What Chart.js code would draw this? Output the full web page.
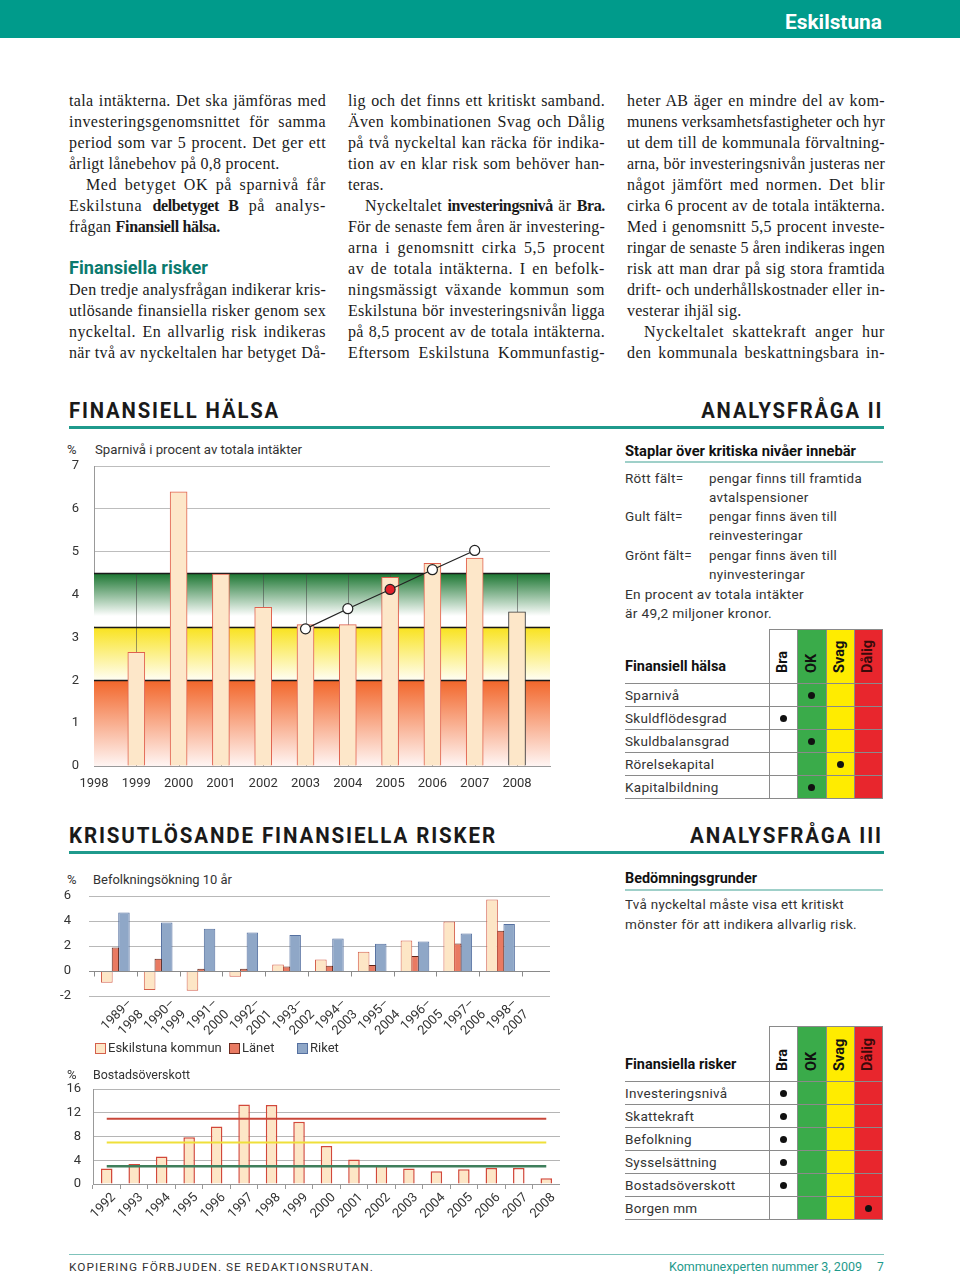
<!DOCTYPE html>
<html><head><meta charset="utf-8">
<script src="https://cdn.jsdelivr.net/npm/chart.js@4.4.1/dist/chart.umd.min.js"></script>
<style>
html,body{margin:0;padding:0;background:#fff;}
body{width:960px;height:1277px;position:relative;overflow:hidden;font-family:Roboto,"Liberation Sans",sans-serif;color:#222;}
.a{position:absolute;white-space:nowrap;}
#topbar{position:absolute;left:0;top:0;width:960px;height:38px;background:#009b8b;}
.col{position:absolute;top:90px;font-family:"Liberation Serif",serif;font-size:16px;line-height:21px;color:#1a1a1a;letter-spacing:0.25px;}
.col .l{height:21px;white-space:nowrap;}
.col .l span{display:inline-block;white-space:nowrap;}
.col b{font-weight:bold;letter-spacing:-0.35px;}
.sec{position:absolute;font-weight:bold;font-size:22px;letter-spacing:2px;line-height:24px;color:#1a1a1a;white-space:nowrap;}
.rule{position:absolute;left:69px;width:815px;height:3px;background:#1f9a8c;}
.ct{position:absolute;font-size:13px;line-height:14px;color:#333;white-space:nowrap;}
.rt{position:absolute;font-size:13.5px;line-height:16px;color:#333;white-space:nowrap;letter-spacing:0.3px;}
.hb{position:absolute;font-weight:bold;font-size:15px;line-height:16px;color:#111;white-space:nowrap;}
canvas{position:absolute;}
.cell{position:absolute;box-sizing:border-box;}
.hl{position:absolute;height:1px;background:#8a8a8a;}
.vl{position:absolute;width:1px;background:#8a8a8a;}
.dot{position:absolute;width:7px;height:7px;border-radius:50%;background:#111;}
.rot{position:absolute;font-weight:bold;font-size:14.5px;line-height:16px;white-space:nowrap;transform-origin:0 0;transform:rotate(-90deg);}
.lg{position:absolute;width:9px;height:9px;border:1px solid;}
</style></head>
<body>
<div id="topbar"></div>
<div class="a" data-w="97" style="left:785px;top:10px;font-weight:bold;font-size:21px;line-height:24px;color:#fff;">Eskilstuna</div>

<div class="col" id="c1" style="left:69px;width:257px;"></div>
<div class="col" id="c2" style="left:348px;width:257px;"></div>
<div class="col" id="c3" style="left:627px;width:258px;"></div>

<div class="sec" data-w="211" style="left:69px;top:399px;">FINANSIELL HÄLSA</div>
<div class="sec" data-w="182" data-o="right" style="left:701px;top:399px;">ANALYSFRÅGA II</div>
<div class="rule" style="top:426px;"></div>

<div class="sec" data-w="428" style="left:69px;top:824px;">KRISUTLÖSANDE FINANSIELLA RISKER</div>
<div class="sec" data-w="193" style="left:690px;top:824px;">ANALYSFRÅGA III</div>
<div class="rule" style="top:851px;"></div>

<!-- chart 1 -->
<div class="ct" style="left:67px;top:443px;">%</div>
<div class="ct" data-w="207" style="left:95px;top:443px;">Sparnivå i procent av totala intäkter</div>
<canvas id="ch1" width="500" height="360" style="left:60px;top:440px;"></canvas>

<!-- chart 2 -->
<div class="ct" style="left:67px;top:873px;">%</div>
<div class="ct" data-w="139" style="left:93px;top:873px;">Befolkningsökning 10 år</div>
<canvas id="ch2" width="500" height="175" style="left:60px;top:870px;"></canvas>
<div id="legend2"></div>

<!-- chart 3 -->
<div class="ct" style="left:67px;top:1068px;">%</div>
<div class="ct" data-w="97" style="left:93px;top:1068px;">Bostadsöverskott</div>
<canvas id="ch3" width="500" height="170" style="left:60px;top:1060px;"></canvas>

<!-- right column -->
<div class="hb" data-w="231" style="left:625px;top:443px;">Staplar över kritiska nivåer innebär</div>
<div class="a" style="left:625px;top:461px;width:258px;height:2px;background:#9fd0c9;"></div>
<div class="rt" style="left:625px;top:470px;">Rött fält=</div>
<div class="rt" data-w="153" style="left:709px;top:470px;">pengar finns till framtida</div>
<div class="rt" style="left:709px;top:489px;">avtalspensioner</div>
<div class="rt" style="left:625px;top:508px;">Gult fält=</div>
<div class="rt" data-w="128" style="left:709px;top:508px;">pengar finns även till</div>
<div class="rt" style="left:709px;top:527px;">reinvesteringar</div>
<div class="rt" style="left:625px;top:547px;">Grönt fält=</div>
<div class="rt" data-w="128" style="left:709px;top:547px;">pengar finns även till</div>
<div class="rt" style="left:709px;top:566px;">nyinvesteringar</div>
<div class="rt" data-w="179" style="left:625px;top:586px;">En procent av totala intäkter</div>
<div class="rt" data-w="147" style="left:625px;top:605px;">är 49,2 miljoner kronor.</div>
<div id="tab1"></div>

<div class="hb" data-w="132" style="left:625px;top:870px;">Bedömningsgrunder</div>
<div class="a" style="left:625px;top:889px;width:258px;height:2px;background:#9fd0c9;"></div>
<div class="rt" data-w="219" style="left:625px;top:896px;">Två nyckeltal måste visa ett kritiskt</div>
<div class="rt" data-w="232" style="left:625px;top:916px;">mönster för att indikera allvarlig risk.</div>
<div id="tab2"></div>

<!-- footer -->
<div class="a" style="left:69px;top:1254px;width:815px;height:1px;background:#7fc3bb;"></div>
<div class="a" data-w="305" style="left:69px;top:1260px;font-size:11.5px;line-height:14px;letter-spacing:1px;color:#333;">KOPIERING FÖRBJUDEN. SE REDAKTIONSRUTAN.</div>
<div class="a" data-w="193" style="left:669px;top:1260px;font-size:12px;line-height:14px;color:#1f9a8c;">Kommunexperten nummer 3, 2009</div>
<div class="a" style="left:877px;top:1260px;font-size:12px;line-height:14px;color:#1f9a8c;">7</div>

<script>
// ---------- DATA ----------
const sparYears = [1999, 2000, 2001, 2002, 2003, 2004, 2005, 2006, 2007, 2008];
const sparValues = [2.65, 6.4, 4.48, 3.7, 3.3, 3.3, 4.4, 4.73, 4.85, 3.6];
const trendYears = [2003, 2004, 2005, 2006, 2007];
const trendValues = [3.2, 3.67, 4.12, 4.58, 5.03];
const sparLimits = [2, 3.25, 4.5];
const sparAxisYears = [1998, 1999, 2000, 2001, 2002, 2003, 2004, 2005, 2006, 2007, 2008];

const befPeriods = [['1989–','1998'],['1990–','1999'],['1991–','2000'],['1992–','2001'],['1993–','2002'],
                    ['1994–','2003'],['1995–','2004'],['1996–','2005'],['1997–','2006'],['1998–','2007']];
const befEskilstuna = [-0.93, -1.52, -1.57, -0.45, 0.53, 0.93, 1.55, 2.45, 3.97, 5.73];
const befLanet = [1.89, 0.99, 0.19, 0.19, 0.37, 0.43, 0.48, 1.2, 2.21, 3.23];
const befRiket = [4.69, 3.89, 3.39, 3.09, 2.88, 2.61, 2.19, 2.37, 3.01, 3.76];
const befSeriesNames = ['Eskilstuna kommun', 'Länet', 'Riket'];

const bostadYears = ['1992','1993','1994','1995','1996','1997','1998','1999','2000','2001','2002','2003','2004','2005','2006','2007','2008'];
const bostadValues = [2.59, 3.38, 4.62, 7.89, 9.69, 13.41, 13.3, 10.48, 6.42, 4.11, 3.1, 2.59, 2.14, 2.48, 2.7, 2.7, 0.96];
const bostadRed    = [11, 11, 11, 11, 11, 11, 11, 11, 11, 11, 11, 11, 11, 11, 11, 11, 11];
const bostadYellow = [7, 7, 7, 7, 7, 7, 7, 7, 7, 7, 7, 7, 7, 7, 7, 7, 7];
const bostadGreen  = [3, 3, 3, 3, 3, 3, 3, 3, 3, 3, 3, 3, 3, 3, 3, 3, 3];

const gradeCols = ['Bra', 'OK', 'Svag', 'Dålig'];
const healthRows = ['Sparnivå', 'Skuldflödesgrad', 'Skuldbalansgrad', 'Rörelsekapital', 'Kapitalbildning'];
const healthGrades = ['OK', 'Bra', 'OK', 'Svag', 'OK'];
const riskRows = ['Investeringsnivå', 'Skattekraft', 'Befolkning', 'Sysselsättning', 'Bostadsöverskott', 'Borgen mm'];
const riskGrades = ['Bra', 'Bra', 'Bra', 'Bra', 'Bra', 'Dålig'];

// ---------- TEXT COLUMNS ----------
const col1 = [
 'J|tala intäkterna. Det ska jämföras med',
 'J|investeringsgenomsnittet för samma',
 'J|period som var 5 procent. Det ger ett',
 'L|årligt lånebehov på 0,8 procent.',
 'I|Med betyget OK på sparnivå får',
 'J|Eskilstuna <b>delbetyget B</b> på analys-',
 'L|frågan <b>Finansiell hälsa.</b>',
 'L|&nbsp;',
 'H|Finansiella risker',
 'J|Den tredje analysfrågan indikerar kris-',
 'J|utlösande finansiella risker genom sex',
 'J|nyckeltal. En allvarlig risk indikeras',
 'J|när två av nyckeltalen har betyget Då-'];
const col2 = [
 'J|lig och det finns ett kritiskt samband.',
 'J|Även kombinationen Svag och Dålig',
 'J|på två nyckeltal kan räcka för indika-',
 'J|tion av en klar risk som behöver han-',
 'L|teras.',
 'I|Nyckeltalet <b>investeringsnivå</b> är <b>Bra.</b>',
 'J|För de senaste fem åren är investering-',
 'J|arna i genomsnitt cirka 5,5 procent',
 'J|av de totala intäkterna. I en befolk-',
 'J|ningsmässigt växande kommun som',
 'J|Eskilstuna bör investeringsnivån ligga',
 'J|på 8,5 procent av de totala intäkterna.',
 'J|Eftersom Eskilstuna Kommunfastig-'];
const col3 = [
 'J|heter AB äger en mindre del av kom-',
 'J|munens verksamhetsfastigheter och hyr',
 'J|ut dem till de kommunala förvaltning-',
 'J|arna, bör investeringsnivån justeras ner',
 'J|något jämfört med normen. Det blir',
 'J|cirka 6 procent av de totala intäkterna.',
 'J|Med i genomsnitt 5,5 procent investe-',
 'J|ringar de senaste 5 åren indikeras ingen',
 'J|risk att man drar på sig stora framtida',
 'J|drift- och underhållskostnader eller in-',
 'L|vesterar ihjäl sig.',
 'I|Nyckeltalet skattekraft anger hur',
 'J|den kommunala beskattningsbara in-'];

function buildCol(id, lines){
  const el = document.getElementById(id);
  const W = el.offsetWidth;
  lines.forEach(s=>{
    const [k, t] = [s[0], s.slice(2)];
    const d = document.createElement('div'); d.className='l';
    const sp = document.createElement('span'); sp.innerHTML = t; d.appendChild(sp);
    el.appendChild(d);
    if (k === 'H'){
      sp.style.fontFamily = 'Roboto, sans-serif'; sp.style.fontWeight='bold';
      sp.style.fontSize='18.5px'; sp.style.color='#0b7a6e'; sp.style.letterSpacing='0px';
      sp.dataset.w = '139';
      return;
    }
    let ind = 0;
    if (k === 'I'){ ind = 17; d.style.paddingLeft = ind+'px'; }
    if (k === 'J' || k === 'I'){
      const w = sp.getBoundingClientRect().width;
      const txt = sp.textContent;
      const n = (txt.match(/ /g)||[]).length;
      const extra = W - ind - w;
      let lsAdd = 0;
      if (extra > 0) lsAdd = Math.min(extra*0.45/txt.length, 0.7);
      if (extra < 0) lsAdd = Math.max(extra*0.8/txt.length, -0.8);
      sp.style.letterSpacing = (0.25+lsAdd)+'px';
      const w2 = sp.getBoundingClientRect().width;
      if (n>0) sp.style.wordSpacing = ((W-ind-w2)/n)+'px';
    }
  });
}

// ---------- TABLES ----------
function buildTable(id, title, rows, grades, top, rowH, headH){
  const host = document.getElementById(id);
  const L = 625, colX = [769, 797, 826, 854, 882];
  const fills = ['#ffffff', '#3aab4a', '#ffec00', '#e8262d'];
  const bottom = top + headH + rows.length*rowH;
  let h = '';
  for (let i=0;i<4;i++){
    h += `<div class="cell" style="left:${colX[i]}px;top:${top}px;width:${colX[i+1]-colX[i]}px;height:${bottom-top}px;background:${fills[i]}"></div>`;
  }
  for (let i=0;i<5;i++) h += `<div class="vl" style="left:${colX[i]}px;top:${top}px;height:${bottom-top}px"></div>`;
  h += `<div class="hl" style="left:${colX[0]}px;top:${top}px;width:${colX[4]-colX[0]+1}px"></div>`;
  for (let r=0;r<=rows.length;r++){
    const y = top+headH+r*rowH;
    h += `<div class="hl" style="left:${L}px;top:${y}px;width:${colX[4]-L+1}px"></div>`;
  }
  h += `<div class="hb" style="left:${L}px;top:${top+headH-24}px;font-size:14.5px">${title}</div>`;
  for (let i=0;i<4;i++){
    const cx = (colX[i]+colX[i+1])/2;
    h += `<div class="rot" style="left:${cx-8}px;top:${top+headH-10}px;color:${i==3?'#3a0a0a':'#111'}">${gradeCols[i]}</div>`;
  }
  rows.forEach((r,k)=>{
    const y = top+headH+k*rowH;
    h += `<div class="rt" style="left:${L}px;top:${y+ (rowH-16)/2}px">${r}</div>`;
    const ci = gradeCols.indexOf(grades[k]);
    const cx = (colX[ci]+colX[ci+1])/2;
    h += `<div class="dot" style="left:${cx-3.5}px;top:${y+rowH/2-3}px"></div>`;
  });
  host.innerHTML = h;
}

buildCol('c1', col1); buildCol('c2', col2); buildCol('c3', col3);
buildTable('tab1', 'Finansiell hälsa', healthRows, healthGrades, 629, 23, 54);
buildTable('tab2', 'Finansiella risker', riskRows, riskGrades, 1026, 23, 55);

// legend for chart 2
(function(){
  const st = [['#fde6c6','#d4604c',95,108],['#e97a62','#6b2a1e',229,242],['#8fa7c7','#5570a0',297,310]];
  let h='';
  befSeriesNames.forEach((n,i)=>{
    h += `<div class="lg" style="left:${st[i][2]}px;top:1043px;background:${st[i][0]};border-color:${st[i][1]}"></div>`;
    h += `<div class="ct" style="left:${st[i][3]}px;top:1041px;">${n}</div>`;
  });
  document.getElementById('legend2').innerHTML = h;
})();

// fit widths
document.querySelectorAll('[data-w]').forEach(el=>{
  el.style.display='inline-block';
  const w = el.getBoundingClientRect().width;
  const t = +el.dataset.w;
  if (el.dataset.o === 'right'){ el.style.left = (parseFloat(el.style.left) + t - w) + 'px'; el.style.transformOrigin='right center'; }
  else el.style.transformOrigin='left center';
  el.style.transform = `scaleX(${t/w})`;
});

// ---------- CHARTS ----------
Chart.defaults.font.family = 'Roboto, "Liberation Sans", sans-serif';
Chart.defaults.font.size = 13;
Chart.defaults.color = '#333';
Chart.defaults.animation = false;
Chart.defaults.plugins.legend.display = false;
Chart.defaults.plugins.tooltip.enabled = false;

const bandPlugin = {
  id: 'bands',
  beforeDatasetsDraw(chart){
    const {ctx, chartArea:a, scales:{x, y}} = chart;
    const lims = [0, ...sparLimits];
    const cols = [['#f2662a','#fff5f3'],['#f9e21c','#fffef4'],['#1a7530','#ffffff']];
    ctx.save();
    for (let i=0;i<3;i++){
      const yt = y.getPixelForValue(lims[i+1]), yb = y.getPixelForValue(lims[i]);
      const g = ctx.createLinearGradient(0, yt, 0, yb);
      g.addColorStop(0, cols[i][0]);
      if (i==2) g.addColorStop(0.8, '#ffffff');
      g.addColorStop(1, cols[i][1]);
      ctx.fillStyle = g; ctx.fillRect(a.left, yt, a.right-a.left, yb-yt);
    }
    ctx.strokeStyle = 'rgba(70,70,70,0.55)'; ctx.lineWidth = 1;
    for (const yr of sparYears){
      const px = Math.round(x.getPixelForValue(yr))+0.5;
      ctx.beginPath(); ctx.moveTo(px, y.getPixelForValue(sparLimits[2])); ctx.lineTo(px, y.getPixelForValue(0)); ctx.stroke();
    }
    ctx.strokeStyle = '#1a1a1a'; ctx.lineWidth = 1.3;
    for (const v of sparLimits){
      const py = Math.round(y.getPixelForValue(v))+0.5;
      ctx.beginPath(); ctx.moveTo(a.left, py); ctx.lineTo(a.right, py); ctx.stroke();
    }
    ctx.restore();
  }
};

new Chart(document.getElementById('ch1'), {
  data: {
    datasets: [
      { type:'line', order:0, data: trendYears.map((yr,i)=>({x:yr, y:trendValues[i]})),
        borderColor:'#222', borderWidth:1.2, pointRadius:5, pointBorderWidth:1.2, pointBorderColor:'#222',
        pointBackgroundColor: trendYears.map(yr=> yr===2005 ? '#e2222a' : '#ffffff') },
      { type:'bar', order:1, data: sparYears.map((yr,i)=>({x:yr, y:sparValues[i]})),
        backgroundColor:'#fde7c9', borderColor: sparYears.map(yr=> yr===2008 ? '#333' : '#e0604e'),
        borderWidth:1, barThickness:17 }
    ]
  },
  options: {
    responsive:false, devicePixelRatio:1,
    layout:{padding:{top:26, right:10, left:0, bottom:0}},
    scales:{
      x:{ type:'linear', min:1998, max:2008.78, offset:false,
          grid:{display:false}, border:{color:'#999'},
          ticks:{stepSize:1, includeBounds:false, autoSkip:false, maxRotation:0, padding:2,
                 callback:v=> sparAxisYears.includes(v) ? String(v) : ''},
          afterFit(s){ s.height = 34; } },
      y:{ min:0, max:7, grid:{color:'#bdbdbd', drawTicks:false}, border:{color:'#999'},
          ticks:{stepSize:1, padding:15}, afterFit(s){ s.width = 34; } }
    }
  },
  plugins:[bandPlugin]
});

const befGrid = {
  id:'befGrid',
  beforeDatasetsDraw(chart){
    const {ctx, chartArea:a, scales:{x,y}} = chart;
    ctx.save();
    ctx.strokeStyle = '#b8b8b8'; ctx.lineWidth = 1;
    for (const v of [-2, 2, 4, 6]){
      const py = Math.round(y.getPixelForValue(v))+0.5;
      ctx.beginPath(); ctx.moveTo(a.left-5, py); ctx.lineTo(490, py); ctx.stroke();
    }
    ctx.restore();
  },
  afterDatasetsDraw(chart){
    const {ctx, chartArea:a, scales:{x,y}} = chart;
    ctx.save();
    ctx.strokeStyle = '#8a8a8a'; ctx.lineWidth = 1;
    const py = Math.round(y.getPixelForValue(0))+0.5;
    ctx.beginPath(); ctx.moveTo(a.left-5, py); ctx.lineTo(490, py); ctx.stroke();
    const step = (a.right - a.left)/befPeriods.length;
    for (let i=0;i<=befPeriods.length;i++){
      const px = Math.round(a.left + i*step)+0.5;
      ctx.beginPath(); ctx.moveTo(px, py); ctx.lineTo(px, py+5); ctx.stroke();
    }
    ctx.restore();
  }
};

new Chart(document.getElementById('ch2'), {
  type:'bar',
  data:{ labels: befPeriods,
    datasets:[
      { label:befSeriesNames[0], data:befEskilstuna, backgroundColor:'#fde6c6', borderColor:'#d4604c', borderWidth:1, barPercentage:1.36 },
      { label:befSeriesNames[1], data:befLanet, backgroundColor:'#e97a62', borderColor:'#5e2418', borderWidth:1, barPercentage:0.86 },
      { label:befSeriesNames[2], data:befRiket, backgroundColor:'#8fa7c7', borderColor:'#5570a0', borderWidth:1, barPercentage:1.34 }
    ]},
  options:{
    responsive:false, devicePixelRatio:1,
    layout:{padding:{top:26, right:38, left:0, bottom:0}},
    datasets:{bar:{categoryPercentage:0.6}},
    scales:{
      x:{ grid:{display:false}, border:{display:false},
          ticks:{minRotation:45, maxRotation:45, autoSkip:false, padding:-8, labelOffset:15},
          afterFit(s){ s.height = 49; } },
      y:{ min:-2, max:6, grid:{display:false}, border:{display:false},
          ticks:{stepSize:2, padding:15}, afterFit(s){ s.width = 34; } }
    }
  },
  plugins:[befGrid]
});

new Chart(document.getElementById('ch3'), {
  data:{ labels: bostadYears,
    datasets:[
      { type:'line', order:0, data:bostadGreen, borderColor:'#3f7f5c', borderWidth:2.5, pointRadius:0 },
      { type:'line', order:0, data:bostadYellow, borderColor:'#efe03a', borderWidth:2, pointRadius:0 },
      { type:'line', order:0, data:bostadRed, borderColor:'#c9473a', borderWidth:2, pointRadius:0 },
      { type:'bar', order:1, data:bostadValues,
        backgroundColor: bostadYears.map(y=> y==='2007' ? '#fffaf4' : '#fde6c6'),
        borderColor:'#d2483a', borderWidth:1.5, barPercentage:0.42, categoryPercentage:1 }
    ]},
  options:{
    responsive:false, devicePixelRatio:1,
    layout:{padding:{top:29, right:0, left:0, bottom:0}},
    scales:{
      x:{ offset:true, grid:{offset:true, drawOnChartArea:false, tickLength:5, color:'#999'}, border:{color:'#999'},
          ticks:{minRotation:45, maxRotation:45, autoSkip:false, padding:1, labelOffset:7},
          afterFit(s){ s.height = 46; } },
      y:{ min:0, max:16, grid:{color:'#b5b5b5', drawTicks:false}, border:{color:'#999'},
          ticks:{stepSize:4, padding:12}, afterFit(s){ s.width = 33; } }
    }
  }
});
</script>
</body></html>
